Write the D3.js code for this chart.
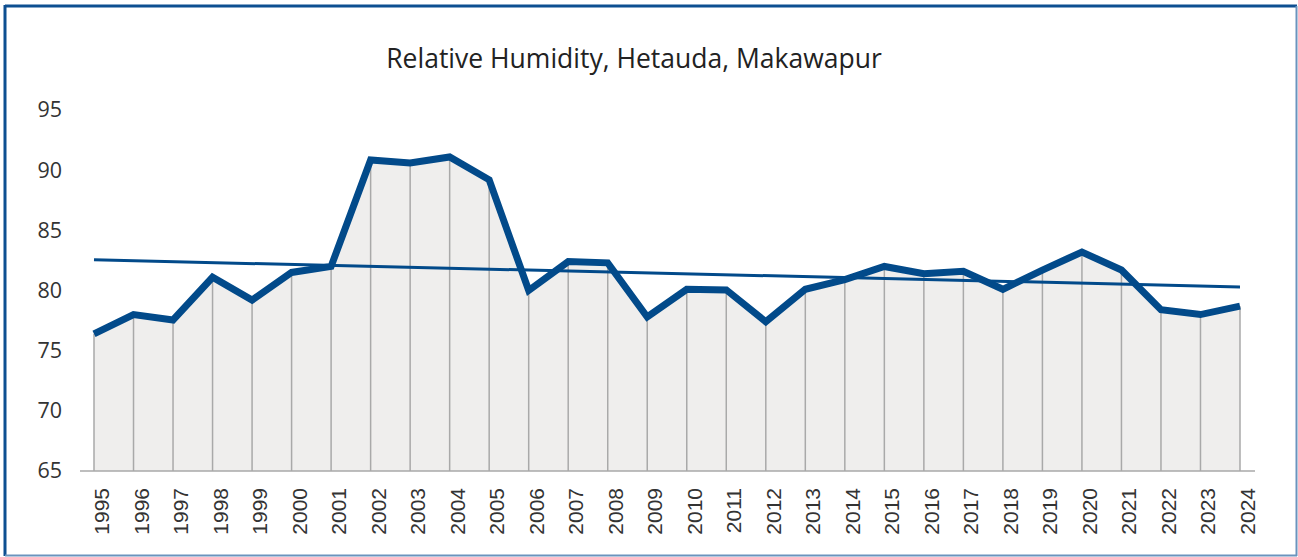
<!DOCTYPE html>
<html>
<head>
<meta charset="utf-8">
<script src="https://cdn.jsdelivr.net/npm/d3@7"></script>
<style>
  body { margin: 0; background: #fff; }
  svg { display: block; }
</style>
</head>
<body>
<svg id="chart" width="1298" height="557"></svg>
<script>
// data
const years = [1995, 1996, 1997, 1998, 1999, 2000, 2001, 2002, 2003, 2004,
               2005, 2006, 2007, 2008, 2009, 2010, 2011, 2012, 2013, 2014,
               2015, 2016, 2017, 2018, 2019, 2020, 2021, 2022, 2023, 2024];
const humidity = [76.4, 78.0, 77.55, 81.1, 79.2, 81.5, 82.0, 90.85, 90.6, 91.1,
                  89.2, 80.0, 82.4, 82.3, 77.8, 80.1, 80.05, 77.4, 80.1, 80.9,
                  82.0, 81.4, 81.6, 80.1, 81.7, 83.2, 81.7, 78.4, 78.0, 78.7];
const trendEnds = [82.55, 80.3];   // linear trend at 1995 and 2024
const yTicks = [65, 70, 75, 80, 85, 90, 95];
const title = "Relative Humidity, Hetauda, Makawapur";

const svg = d3.select("#chart");
const W = +svg.attr("width");
const H = +svg.attr("height");

const data = years.map((y, i) => ({ year: y, value: humidity[i] }));

// frame
svg.append("line").attr("x1", 5).attr("y1", 6).attr("x2", 1297).attr("y2", 6)
  .attr("stroke", "#0d4f91").attr("stroke-width", 3);
svg.append("line").attr("x1", 5).attr("y1", 5).attr("x2", 5).attr("y2", 556)
  .attr("stroke", "#0d4f91").attr("stroke-width", 3);
svg.append("line").attr("x1", 1296.5).attr("y1", 6).attr("x2", 1296.5).attr("y2", 556)
  .attr("stroke", "#6b93bd").attr("stroke-width", 2);
svg.append("line").attr("x1", 5).attr("y1", 555.5).attr("x2", 1297).attr("y2", 555.5)
  .attr("stroke", "#6b93bd").attr("stroke-width", 2);

// title
svg.append("text")
  .attr("x", 634).attr("y", 68)
  .attr("text-anchor", "middle")
  .attr("font-family", "'Open Sans', Lato, sans-serif")
  .attr("font-size", 26.5)
  .attr("fill", "#222")
  .text(title);

// scales
const x = d3.scalePoint().domain(years).range([94, 1240]);
const y = d3.scaleLinear().domain([65, 95]).range([471, 110]);

// area under the line
const area = d3.area()
  .x(d => x(d.year))
  .y0(y(65))
  .y1(d => y(d.value));
svg.append("path").datum(data)
  .attr("d", area)
  .attr("fill", "#efeeed");

// drop lines
svg.append("g").selectAll("line")
  .data(data)
  .enter()
  .append("line")
  .attr("x1", d => x(d.year)).attr("x2", d => x(d.year))
  .attr("y1", d => y(d.value)).attr("y2", y(65))
  .attr("stroke", "#a9a9a9")
  .attr("stroke-width", 1.5);

// x axis line
svg.append("line")
  .attr("x1", 80).attr("x2", 1255)
  .attr("y1", y(65)).attr("y2", y(65))
  .attr("stroke", "#a9a9a9")
  .attr("stroke-width", 1.5);

// y axis labels (no line, no ticks)
const yAxisG = svg.append("g")
  .attr("transform", "translate(62,0)")
  .call(d3.axisLeft(y).tickValues(yTicks).tickSize(0).tickPadding(0));
yAxisG.select(".domain").remove();
yAxisG.selectAll("text")
  .attr("font-family", "'Open Sans', Lato, sans-serif")
  .attr("font-size", 21.5)
  .attr("fill", "#333");

// x axis labels, rotated
const xAxisG = svg.append("g")
  .attr("transform", `translate(0,${y(65)})`)
  .call(d3.axisBottom(x).tickSize(0).tickPadding(0));
xAxisG.select(".domain").remove();
xAxisG.selectAll("text")
  .attr("font-family", "'Liberation Sans', Arial, sans-serif")
  .attr("font-size", 21)
  .attr("fill", "#333")
  .attr("text-anchor", "end")
  .attr("dy", 14.5)
  .attr("transform", "translate(0,17) rotate(-90)")
  .attr("x", 0).attr("y", 0);

// main line
const line = d3.line()
  .x(d => x(d.year))
  .y(d => y(d.value));
svg.append("path").datum(data)
  .attr("d", line)
  .attr("fill", "none")
  .attr("stroke", "#024a8a")
  .attr("stroke-width", 7)
  .attr("stroke-linejoin", "miter");

// trend line
const trend = [
  { year: years[0], value: trendEnds[0] },
  { year: years[years.length - 1], value: trendEnds[1] }
];
svg.append("path").datum(trend)
  .attr("d", line)
  .attr("fill", "none")
  .attr("stroke", "#024a8a")
  .attr("stroke-width", 3);
</script>
</body>
</html>
